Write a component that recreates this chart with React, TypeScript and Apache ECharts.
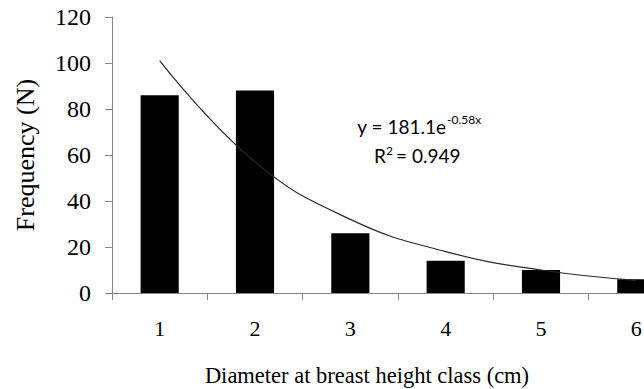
import React, { useEffect, useRef } from "react";
import * as echarts from "echarts";

const categories = ["1", "2", "3", "4", "5", "6"];
const frequency = [86, 88, 26, 14, 10, 6];
// fitted trend curve at each class centre
const trendValues = [101, 57, 32, 18, 10, 5.5];
const yTicks = { min: 0, max: 120, interval: 20 };

const serif = "'Liberation Serif', 'Times New Roman', serif";
const sans = "Lato, 'Open Sans', sans-serif";

export default function App() {
  const ref = useRef<HTMLDivElement>(null);
  useEffect(() => {
    if (!ref.current) return;
    const chart = echarts.init(ref.current, undefined, { renderer: "svg" });
    chart.setOption({
      animation: false,
      backgroundColor: "#ffffff",
      grid: { left: 112, top: 17, width: 572, height: 276, outerBoundsMode: "none", containLabel: false },
      xAxis: {
        type: "category",
        data: categories,
        boundaryGap: true,
        axisLine: { lineStyle: { color: "#868686", width: 1 } },
        axisTick: { show: true, length: 7, lineStyle: { color: "#868686" } },
        axisLabel: { color: "#000", fontFamily: serif, fontSize: 22, margin: 24 },
        splitLine: { show: false },
      },
      yAxis: {
        type: "value",
        min: yTicks.min,
        max: yTicks.max,
        interval: yTicks.interval,
        axisLine: { show: true, lineStyle: { color: "#868686", width: 1 } },
        axisTick: { show: true, length: 7, lineStyle: { color: "#868686" } },
        axisLabel: { color: "#000", fontFamily: serif, fontSize: 24, margin: 21 },
        splitLine: { show: false },
      },
      series: [
        {
          type: "bar",
          data: frequency,
          barWidth: "40%",
          itemStyle: { color: "#000" },
        },
        {
          type: "line",
          data: trendValues,
          smooth: 0.45,
          symbol: "none",
          lineStyle: { color: "#2a2a2a", width: 1.2 },
          z: 5,
        },
      ],
      graphic: [
        {
          type: "text",
          x: 25,
          y: 155,
          rotation: Math.PI / 2,
          style: {
            text: "Frequency (N)",
            font: `26px ${serif}`,
            fill: "#000",
            align: "center",
            verticalAlign: "middle",
          },
        },
        {
          type: "text",
          x: 367,
          y: 375,
          style: {
            text: "Diameter at breast height class (cm)",
            font: `22.5px ${serif}`,
            fill: "#000",
            align: "center",
            verticalAlign: "middle",
          },
        },
        {
          type: "text",
          x: 446,
          y: 126.5,
          style: {
            text: "y = 181.1e",
            font: `19px ${sans}`,
            fill: "#000",
            align: "right",
            verticalAlign: "middle",
          },
        },
        {
          type: "text",
          x: 447,
          y: 119.5,
          style: {
            text: "-0.58x",
            font: `12px ${sans}`,
            fill: "#000",
            align: "left",
            verticalAlign: "middle",
          },
        },
        {
          type: "text",
          x: 374,
          y: 155,
          style: {
            text: "R",
            font: `19px ${sans}`,
            fill: "#000",
            align: "left",
            verticalAlign: "middle",
          },
        },
        {
          type: "text",
          x: 386,
          y: 150,
          style: {
            text: "2",
            font: `12px ${sans}`,
            fill: "#000",
            align: "left",
            verticalAlign: "middle",
          },
        },
        {
          type: "text",
          x: 396,
          y: 155,
          style: {
            text: "= 0.949",
            font: `19px ${sans}`,
            fill: "#000",
            align: "left",
            verticalAlign: "middle",
          },
        },
      ],
    });
    return () => chart.dispose();
  }, []);
  return <div ref={ref} style={{ width: 644, height: 389, position: "absolute", left: 0, top: 0 }} />;
}
